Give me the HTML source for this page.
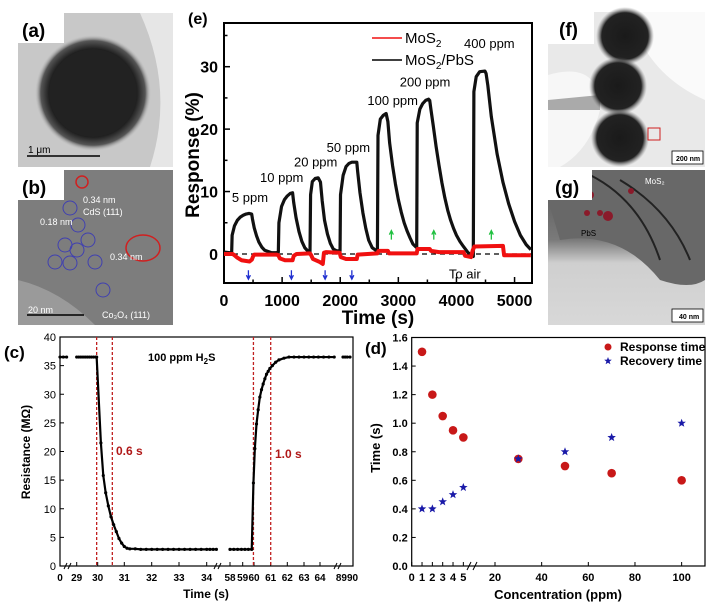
<!DOCTYPE html>
<html><head><meta charset="utf-8"><style>
html,body{margin:0;padding:0;background:#fff;}
svg{display:block;font-family:"Liberation Sans",Arial,sans-serif;}
</style></head><body>
<svg id="fig" width="713" height="608" viewBox="0 0 713 608" xmlns="http://www.w3.org/2000/svg">
<defs>
<radialGradient id="gA" cx="0.5" cy="0.5" r="0.5"><stop offset="0" stop-color="#2a2a2a"/><stop offset="0.75" stop-color="#1c1c1c"/><stop offset="0.9" stop-color="#555"/><stop offset="1" stop-color="#bbb" stop-opacity="0"/></radialGradient>
<radialGradient id="gF" cx="0.5" cy="0.5" r="0.5"><stop offset="0" stop-color="#1a1a1a"/><stop offset="0.8" stop-color="#222"/><stop offset="1" stop-color="#777" stop-opacity="0"/></radialGradient>
<linearGradient id="gG" x1="0" y1="0" x2="0" y2="1"><stop offset="0" stop-color="#555"/><stop offset="0.45" stop-color="#7a7a7a"/><stop offset="0.6" stop-color="#cfcfcf"/><stop offset="1" stop-color="#d8d8d8"/></linearGradient>
</defs>

<g>
<rect x="18" y="13" width="155" height="154" fill="#c8c8c8"/>
<path d="M140 13 L173 13 L173 167 L150 167 Q175 90 140 13Z" fill="#e6e6e6"/>
<circle cx="93" cy="93" r="58" fill="url(#gA)"/>
<circle cx="93" cy="93" r="44" fill="#222"/>
<rect x="18" y="13" width="46" height="30" fill="#fff"/>
<text x="22" y="37" font-size="19" font-weight="bold" fill="#000">(a)</text>
<line x1="27" y1="156" x2="100" y2="156" stroke="#000" stroke-width="1.5"/>
<text x="28" y="153" font-size="10" fill="#000">1 μm</text>
</g>
<g>
<rect x="18" y="170" width="155" height="155" fill="#7d7d7d"/>
<path d="M18 280 Q60 290 95 325 L18 325Z" fill="#9a9a9a"/>
<rect x="18" y="170" width="46" height="30" fill="#fff"/>
<text x="22" y="194" font-size="19" font-weight="bold" fill="#000">(b)</text>
<circle cx="82" cy="182" r="6" fill="none" stroke="#d02020" stroke-width="1.5"/>
<ellipse cx="143" cy="248" rx="17" ry="13" fill="none" stroke="#d02020" stroke-width="1.5"/>
<g fill="none" stroke="#4040b0" stroke-width="1">
<circle cx="70" cy="208" r="7"/><circle cx="78" cy="225" r="7"/><circle cx="88" cy="240" r="7"/><circle cx="65" cy="245" r="7"/><circle cx="77" cy="250" r="7"/><circle cx="55" cy="262" r="7"/><circle cx="70" cy="263" r="7"/><circle cx="95" cy="262" r="7"/><circle cx="103" cy="290" r="7"/></g>
<text x="83" y="203" font-size="9" fill="#fff">0.34 nm</text>
<text x="83" y="215" font-size="9" fill="#fff">CdS (111)</text>
<text x="40" y="225" font-size="9" fill="#fff">0.18 nm</text>
<text x="110" y="260" font-size="9" fill="#fff">0.34 nm</text>
<text x="102" y="318" font-size="9" fill="#fff">Co₃O₄ (111)</text>
<text x="28" y="313" font-size="9" fill="#fff">20 nm</text>
<line x1="27" y1="315" x2="84" y2="315" stroke="#000" stroke-width="1.5"/>
</g>
<g>
<rect x="548" y="12" width="157" height="155" fill="#e9e9e9"/>
<path d="M548 75 Q600 60 600 110 Q590 150 560 167 L548 167Z" fill="#f7f7f7"/>
<path d="M630 12 L705 12 L705 100 Q660 80 640 40Z" fill="#fafafa"/>
<path d="M548 100 L600 95 L600 110 L548 110Z" fill="#aaa"/>
<circle cx="625" cy="36" r="29" fill="url(#gF)"/>
<circle cx="618" cy="86" r="29" fill="url(#gF)"/>
<circle cx="620" cy="138" r="29" fill="url(#gF)"/>
<rect x="648" y="128" width="12" height="12" fill="none" stroke="#d02020" stroke-width="1"/>
<rect x="548" y="12" width="46" height="32" fill="#fff"/>
<text x="559" y="36" font-size="19" font-weight="bold" fill="#000">(f)</text>
<rect x="672" y="151" width="31" height="13" fill="#fff" stroke="#000" stroke-width="0.8"/>
<text x="676" y="161" font-size="7" font-weight="bold" fill="#000">200 nm</text>
</g>
<g>
<rect x="548" y="170" width="157" height="155" fill="url(#gG)"/>
<path d="M560 240 Q620 230 660 280 Q690 290 705 280 L705 170 L548 170 L548 200Z" fill="#686868"/>
<path d="M590 175 Q640 200 660 260 M620 180 Q670 210 690 260" stroke="#222" stroke-width="2" fill="none"/>
<g fill="#8a1a2a"><circle cx="631" cy="191" r="3"/><circle cx="566" cy="192" r="3"/><circle cx="590" cy="195" r="4"/><circle cx="587" cy="213" r="3"/><circle cx="608" cy="216" r="5"/><circle cx="600" cy="213" r="3"/></g>
<rect x="548" y="170" width="44" height="30" fill="#fff"/>
<text x="555" y="194" font-size="19" font-weight="bold" fill="#000">(g)</text>
<text x="645" y="184" font-size="8" fill="#fff">MoS₂</text>
<text x="581" y="236" font-size="8" fill="#000">PbS</text>
<rect x="672" y="309" width="31" height="13" fill="#fff" stroke="#000" stroke-width="0.8"/>
<text x="679" y="319" font-size="7" font-weight="bold" fill="#000">40 nm</text>
</g>

<g id="pe"></g>
<g id="pc"></g>
<g id="pd"></g>
</svg>
<script>
// ---------- panel e data ----------
const eBlackT=[0,100,132,140,180,230,280,330,380,430,476,490,520,560,600,650,700,760,820,900,935,945,990,1040,1090,1140,1180,1200,1240,1290,1340,1390,1440,1480,1490,1520,1570,1620,1660,1690,1730,1780,1830,1880,1940,1997,2005,2050,2100,2150,2200,2285,2300,2340,2390,2440,2490,2550,2610,2640,2650,2690,2740,2790,2820,2850,2900,2950,3000,3050,3100,3150,3200,3250,3316,3325,3370,3420,3470,3520,3540,3560,3600,3650,3700,3750,3800,3850,3900,3950,4000,4060,4120,4200,4290,4300,4340,4400,4490,4510,4540,4600,4700,4800,4900,5000,5100,5200,5280];
const eBlackV=[0.3,0.2,0.3,3.0,4.5,5.4,5.9,6.2,6.4,6.5,6.4,5.6,4.2,2.9,1.9,1.1,0.6,0.4,0.2,0.2,0.3,5.0,7.6,8.7,9.3,9.7,9.8,8.2,5.8,3.6,2.0,1.0,0.5,0.4,9.5,11.6,12.1,12.2,11.5,8.5,5.4,3.2,1.7,0.8,0.5,0.5,9.5,12.6,14.0,14.5,14.7,14.7,13.2,9.8,6.6,4.1,2.2,1.0,0.6,0.6,19.0,21.6,22.2,22.5,21.2,17.8,14.2,11.2,8.7,6.7,5.0,3.7,2.6,1.6,1.0,21.0,23.2,24.1,24.6,24.8,24.6,23.2,20.6,17.2,14.2,11.4,9.0,7.0,5.4,4.1,3.0,2.0,1.2,0.2,-0.4,26.0,28.4,29.2,29.3,28.9,27.0,22.0,16.0,11.5,8.0,5.2,3.0,1.5,0.7];
const eRedT=[0,150,180,230,300,440,480,500,520,900,935,960,1050,1180,1200,1250,1480,1500,1530,1650,1700,1720,1760,1990,2010,2100,2285,2300,2640,2660,2820,2840,3316,3330,3540,3560,3700,4120,4150,4250,4280,4310,4800,4820,5280];
const eRedV=[0,0,-0.2,-0.6,-1.0,-1.2,-0.9,-0.4,-0.1,-0.1,-0.2,-0.7,-1.0,-1.0,-0.3,0,0.1,-0.2,-0.8,-1.3,-1.6,0.2,0.3,0.2,-0.5,-0.8,-0.8,-0.1,0.1,0.5,0.5,0.1,0.1,0.8,0.8,0.5,0.3,0.3,-0.3,-0.5,0.6,1.2,1.3,-0.2,-0.2];
const eYTicks=[0,10,20,30];
const eXTicks=[0,1000,2000,3000,4000,5000];
const ePpmLabels=["5 ppm","10 ppm","20 ppm","50 ppm","100 ppm","200 ppm","400 ppm"];
const ePpmT=[447,993,1578,2140,2903,3460,4566];
const ePpmV=[8.3,11.5,14.0,16.3,23.9,26.8,33.0];
const eBlueArrowT=[420,1160,1740,2200];
const eGreenArrowT=[2880,3610,4600];

// ---------- panel c data ----------
const cSegT=[[0,0.3,0.6],
 [29,29.1,29.2,29.3,29.4,29.5,29.6,29.7,29.8,29.9,29.95,30.12,30.21,30.3,30.4,30.5,30.6,30.7,30.8,30.9,31.0,31.1,31.2,31.4,31.6,31.8,32,32.2,32.4,32.6,32.8,33,33.2,33.4,33.6,33.8,34,34.2,34.4,34.6],
 [58,58.3,58.6,58.9,59.2,59.5,59.8,59.95,60.05,60.15,60.25,60.35,60.45,60.55,60.65,60.75,60.85,60.95,61.1,61.3,61.5,61.8,62.1,62.4,62.7,63,63.3,63.6,63.9,64.2,64.5,64.8],
 [89,89.3,89.6,90]];
const cSegV=[[36.5,36.5,36.5],
 [36.5,36.5,36.5,36.5,36.5,36.5,36.5,36.5,36.5,36.5,36.5,21.5,15.8,12.8,10.5,8.6,7.2,6.0,4.8,4.0,3.4,3.1,3.0,3.0,2.9,2.9,2.9,2.9,2.9,2.9,2.9,2.9,2.9,2.9,2.9,2.9,2.9,2.9,2.9,2.9],
 [2.9,2.9,2.9,2.9,2.9,2.9,2.9,14.5,20.5,24.8,27.3,29.5,30.8,31.8,32.7,33.5,34.0,34.5,35.0,35.6,36.0,36.3,36.5,36.5,36.5,36.5,36.5,36.5,36.5,36.5,36.5,36.5],
 [36.5,36.5,36.5,36.5]];
const cYTicks=[0,5,10,15,20,25,30,35,40];
const cXTicks=[0,29,30,31,32,33,34,58,59,60,61,62,63,64];
const cXTickLabels=["0","29","30","31","32","33","34","58","59","60","61","62","63","64"];
const cVLines=[29.95,30.55,59.95,61.0];
const cKnotT=[0,1,28.6,29,30,31,32,33,34,34.7,57.6,58,59,60,61,62,63,64,64.9,88.6,89,90];
const cKnotX=[60,71,72,76.7,97.7,124.3,151.7,179,206.7,218,222,230,242.7,254,270.7,287.3,304,320,336,339,343,350];

// ---------- panel d data ----------
const dConc=[1,2,3,4,5,30,50,70,100];
const dResp=[1.5,1.2,1.05,0.95,0.9,0.75,0.7,0.65,0.6];
const dRecov=[0.4,0.4,0.45,0.5,0.55,0.75,0.8,0.9,1.0];
const dYTicks=[0,0.2,0.4,0.6,0.8,1.0,1.2,1.4,1.6];
const dXTicks=[0,1,2,3,4,5,20,40,60,80,100];

const NS="http://www.w3.org/2000/svg";
function mk(parent,tag,attrs,txt){const e=document.createElementNS(NS,tag);for(const k in attrs)e.setAttribute(k,attrs[k]);if(txt!==undefined)e.textContent=txt;parent.appendChild(e);return e;}

(function(){
const g=document.getElementById('pe');
const L=224,R=532,T=23,B=283,xmin=0,xmax=5300,ymin=-4.65,ymax=37;
const X=t=>L+(t-xmin)/(xmax-xmin)*(R-L);
const Y=v=>B-(v-ymin)/(ymax-ymin)*(B-T);
let el=mk(g,'rect',{x:L,y:T,width:R-L,height:B-T,fill:'none',stroke:'#000','stroke-width':2});

for(let t=0;t<=5000;t+=500){const tl=mk(g,'line',{x1:X(t),x2:X(t),y1:B,y2:B-(t%1000===0?6:3.5),stroke:'#000','stroke-width':1.5});}
for(let v=-5;v<=35;v+=5){if(v<ymin)continue;const tl=mk(g,'line',{x1:L,x2:L+(v%10===0?6:3.5),y1:Y(v),y2:Y(v),stroke:'#000','stroke-width':1.5});}
eXTicks.forEach(t=>{const e=mk(g,'text',{x:X(t),y:306,'text-anchor':'middle','font-size':16,'font-weight':'bold'},String(t));});
eYTicks.forEach(v=>{const e=mk(g,'text',{x:L-6,y:Y(v)+6,'text-anchor':'end','font-size':16,'font-weight':'bold'},String(v));});
el=mk(g,'text',{x:378,y:324,'text-anchor':'middle','font-size':19,'font-weight':'bold'},'Time (s)');
el=mk(g,'text',{x:0,y:0,transform:'translate(199,155) rotate(-90)','text-anchor':'middle','font-size':19,'font-weight':'bold'},'Response (%)');
el=mk(g,'text',{x:188,y:24,'font-size':16,'font-weight':'bold'},'(e)');
el=mk(g,'line',{x1:L,x2:R,y1:Y(0),y2:Y(0),stroke:'#000','stroke-width':1.2,'stroke-dasharray':'5,4'});
el=mk(g,'polyline',{points:eBlackT.map((t,i)=>X(t)+','+Y(eBlackV[i])).join(' '),fill:'none',stroke:'#111','stroke-width':3.2,'stroke-linejoin':'round'});
el=mk(g,'polyline',{points:eRedT.map((t,i)=>X(t)+','+Y(eRedV[i])).join(' '),fill:'none',stroke:'#f01010','stroke-width':4,'stroke-linejoin':'round'});
ePpmLabels.forEach((s,i)=>{const e=mk(g,'text',{x:X(ePpmT[i]),y:Y(ePpmV[i]),'text-anchor':'middle','font-size':13},s);});
eBlueArrowT.forEach(t=>{const x=X(t),y=Y(-2.6);const e=mk(g,'path',{d:`M${x} ${y} L${x} ${y+8} M${x-2} ${y+5} L${x} ${y+9} L${x+2} ${y+5}`,stroke:'#2030d0','stroke-width':1.3,fill:'none'});});
eGreenArrowT.forEach(t=>{const x=X(t),y=Y(2.3);const e=mk(g,'path',{d:`M${x} ${y} L${x} ${y-8} M${x-2} ${y-5} L${x} ${y-9} L${x+2} ${y-5}`,stroke:'#20c040','stroke-width':1.3,fill:'none'});});
el=mk(g,'text',{x:X(3870),y:Y(-3.3)+4,'font-size':13},'To air');
el=mk(g,'line',{x1:372,x2:402,y1:38,y2:38,stroke:'#f01010','stroke-width':1.5});
el=mk(g,'text',{x:405,y:43,'font-size':15});el.innerHTML='MoS<tspan font-size="10" dy="4">2</tspan>';
el=mk(g,'line',{x1:372,x2:402,y1:60,y2:60,stroke:'#000','stroke-width':1.5});
el=mk(g,'text',{x:405,y:65,'font-size':15});el.innerHTML='MoS<tspan font-size="10" dy="4">2</tspan><tspan dy="-4">/PbS</tspan>';
})();

(function(){
const g=document.getElementById('pc');
const L=60,R=353,T=337,B=566,ymin=0,ymax=40;
const X=t=>{for(let i=0;i<cKnotT.length-1;i++){if(t<=cKnotT[i+1]){const f=(t-cKnotT[i])/(cKnotT[i+1]-cKnotT[i]);return cKnotX[i]+f*(cKnotX[i+1]-cKnotX[i]);}}return cKnotX[cKnotX.length-1];};
const Y=v=>B-(v-ymin)/(ymax-ymin)*(B-T);
let el=mk(g,'rect',{x:L,y:T,width:R-L,height:B-T,fill:'none',stroke:'#000','stroke-width':1.2});
cYTicks.forEach(v=>{const e=mk(g,'text',{x:L-4,y:Y(v)+4,'text-anchor':'end','font-size':11},String(v));
const t=mk(g,'line',{x1:L,x2:L+4,y1:Y(v),y2:Y(v),stroke:'#000'});});
cXTicks.forEach((t,i)=>{const e=mk(g,'text',{x:X(t),y:581,'text-anchor':'middle','font-size':10,'font-weight':'bold'},cXTickLabels[i]);
const tk=mk(g,'line',{x1:X(t),x2:X(t),y1:B,y2:B-4,stroke:'#000'});});
el=mk(g,'text',{x:347,y:581,'text-anchor':'middle','font-size':10,'font-weight':'bold'},'8990');
[68,218,338].forEach(x=>{const e=mk(g,'path',{d:`M${x-4} ${B+3} L${x-1} ${B-3} M${x} ${B+3} L${x+3} ${B-3}`,stroke:'#000','stroke-width':1});});
cVLines.forEach(t=>{const e=mk(g,'line',{x1:X(t),x2:X(t),y1:T,y2:B,stroke:'#c02020','stroke-width':1.3,'stroke-dasharray':'3,2'});});
cSegT.forEach((ts,s)=>{const e=mk(g,'polyline',{points:ts.map((t,i)=>X(t)+','+Y(cSegV[s][i])).join(' '),fill:'none',stroke:'#000','stroke-width':2.2});
ts.forEach((t,i)=>{const d=mk(g,'circle',{cx:X(t),cy:Y(cSegV[s][i]),r:1.6,fill:'#000'});});});
el=mk(g,'text',{x:206,y:598,'text-anchor':'middle','font-size':12,'font-weight':'bold'},'Time (s)');
el=mk(g,'text',{x:0,y:0,transform:'translate(30,452) rotate(-90)','text-anchor':'middle','font-size':12,'font-weight':'bold'},'Resistance (MΩ)');
el=mk(g,'text',{x:4,y:358,'font-size':17,'font-weight':'bold'},'(c)');
el=mk(g,'text',{x:148,y:361,'font-size':11,'font-weight':'bold'});el.innerHTML='100 ppm H<tspan font-size="8" dy="3">2</tspan><tspan dy="-3">S</tspan>';
el=mk(g,'text',{x:116,y:455,'font-size':12,'font-weight':'bold',fill:'#b01818'},'0.6 s');
el=mk(g,'text',{x:275,y:458,'font-size':12,'font-weight':'bold',fill:'#b01818'},'1.0 s');
})();

(function(){
const g=document.getElementById('pd');
const L=411.7,R=705,T=337.5,B=566,ymin=0,ymax=1.6;
const X=c=>c<=5?L+c*10.33:495+(c-20)*2.333;
const Y=v=>B-(v-ymin)/(ymax-ymin)*(B-T);
let el=mk(g,'rect',{x:L,y:T,width:R-L,height:B-T,fill:'none',stroke:'#000','stroke-width':1.2});
dYTicks.forEach(v=>{const e=mk(g,'text',{x:L-4,y:Y(v)+4,'text-anchor':'end','font-size':11,'font-weight':'bold'},v.toFixed(1));
const t=mk(g,'line',{x1:L,x2:L+4,y1:Y(v),y2:Y(v),stroke:'#000'});});
dXTicks.forEach(c=>{const e=mk(g,'text',{x:X(c),y:581,'text-anchor':'middle','font-size':11,'font-weight':'bold'},String(c));
const t=mk(g,'line',{x1:X(c),x2:X(c),y1:B,y2:B-4,stroke:'#000'});});
el=mk(g,'path',{d:`M${472-5} ${B+4} L${472-1} ${B-4} M${472+1} ${B+4} L${472+5} ${B-4}`,stroke:'#000','stroke-width':1});
dConc.forEach((c,i)=>{const e=mk(g,'circle',{cx:X(c),cy:Y(dResp[i]),r:4.3,fill:'#c81818'});});
const star=(cx,cy,r)=>{let p='';for(let k=0;k<10;k++){const a=-Math.PI/2+k*Math.PI/5,rr=k%2?r*0.42:r;p+=(k?'L':'M')+(cx+rr*Math.cos(a)).toFixed(1)+' '+(cy+rr*Math.sin(a)).toFixed(1);}return p+'Z';};
dConc.forEach((c,i)=>{const e=mk(g,'path',{d:star(X(c),Y(dRecov[i]),4.5),fill:'#1a1aa8'});});
el=mk(g,'circle',{cx:608,cy:347,r:3.5,fill:'#c81818'});
el=mk(g,'text',{x:620,y:351,'font-size':12,'font-weight':'bold'},'Response time');
el=mk(g,'path',{d:star(608,361,4),fill:'#1a1aa8'});
el=mk(g,'text',{x:620,y:365,'font-size':12,'font-weight':'bold'},'Recovery time');
el=mk(g,'text',{x:558,y:599,'text-anchor':'middle','font-size':13,'font-weight':'bold'},'Concentration (ppm)');
el=mk(g,'text',{x:0,y:0,transform:'translate(380,448) rotate(-90)','text-anchor':'middle','font-size':13,'font-weight':'bold'},'Time (s)');
el=mk(g,'text',{x:365,y:354,'font-size':17,'font-weight':'bold'},'(d)');
})();
</script>
</body></html>
